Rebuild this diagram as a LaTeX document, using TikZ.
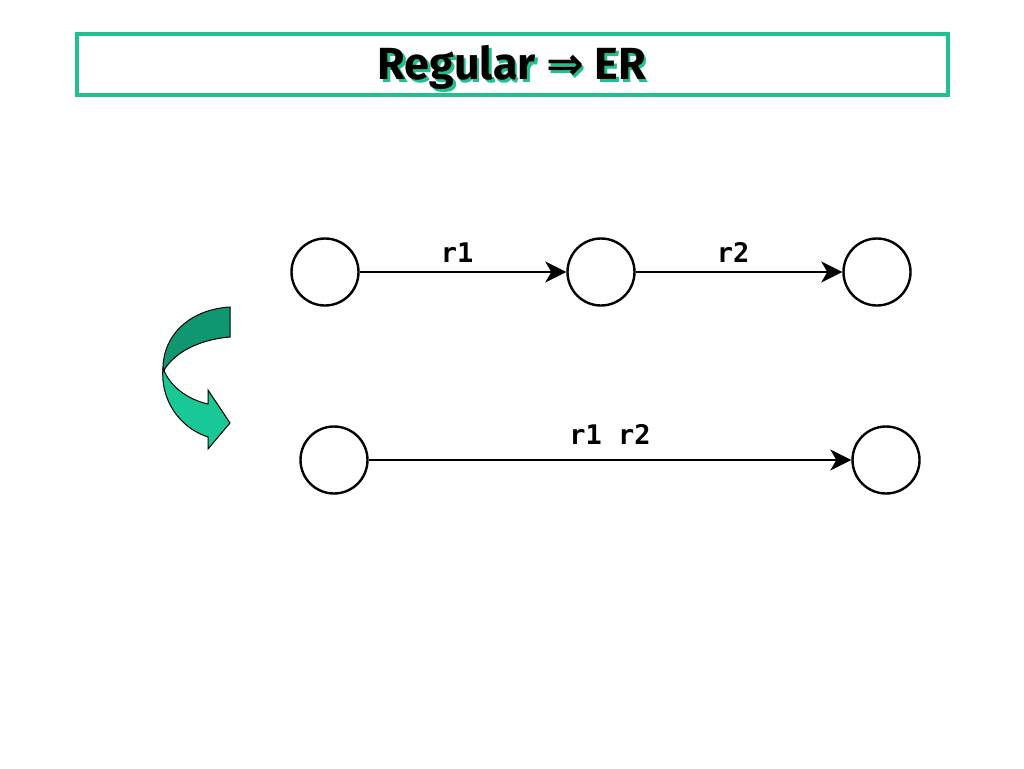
\documentclass[tikz,border=0pt]{standalone}
\usepackage{fontspec}
\setmainfont{DejaVu Sans}
\newfontfamily\monob{DejaVu Sans Mono}
\newfontfamily\titlef{Fira Sans}
\usetikzlibrary{arrows.meta}
\definecolor{teal1}{RGB}{32,192,144}
\definecolor{darkarr}{RGB}{16,150,112}
\definecolor{lightarr}{RGB}{24,200,150}
\tikzset{
  state/.style={circle,draw=black,line width=2.4pt,minimum size=67pt,inner sep=0pt},
  trans/.style={line width=2.4pt,-{Stealth[length=21pt,width=21pt,inset=6pt]}},
  lbl/.style={font=\monob\bfseries\fontsize{27}{30}\selectfont},
  titlebox/.style={draw=teal1,line width=4pt,fill=white},
}
\begin{document}
\begin{tikzpicture}[x=1pt,y=-1pt]
\useasboundingbox (0,0) rectangle (1024,768);
\fill[white] (0,0) rectangle (1024,768);
% title
\node[titlebox,minimum width=871pt,minimum height=61pt,anchor=center] (tb) at (512.5,64.5) {};
\node[text=teal1,font=\titlef\bfseries\fontsize{45}{50}\selectfont] (tshadow) at (514.5,70) {Regular {\fontspec{DejaVu Sans}⇒} ER};
\node[text=black,font=\titlef\bfseries\fontsize{45}{50}\selectfont] (title) at (512,67.5) {Regular {\fontspec{DejaVu Sans}⇒} ER};
% states
\node[state] (a) at (325,272) {};
\node[state] (b) at (601,272) {};
\node[state] (c) at (877,272) {};
\node[state] (d) at (334,460) {};
\node[state] (e) at (886,460) {};
\draw[trans] (a) -- node[lbl,above=5pt,xshift=-6pt] (l1) {r1} (b);
\draw[trans] (b) -- node[lbl,above=5pt,xshift=-6pt] (l2) {r2} (c);
\draw[trans] (d) -- (e);
\node[lbl] (l12) at (610,434) {r1 r2};
% curved arrow
\draw[fill=darkarr,line width=1pt] (230,307) .. controls (195,309) and (165,330) .. (163,366)
  -- (163,372) .. controls (172,355) and (195,340) .. (230,337) -- cycle;
\draw[fill=lightarr,line width=1pt] (163,368) .. controls (160,400) and (180,428) .. (208,437)
  -- (208,449) -- (230,423) -- (208,390) -- (208,404)
  .. controls (190,400) and (170,388) .. (163,368) -- cycle;
\end{tikzpicture}
\end{document}
